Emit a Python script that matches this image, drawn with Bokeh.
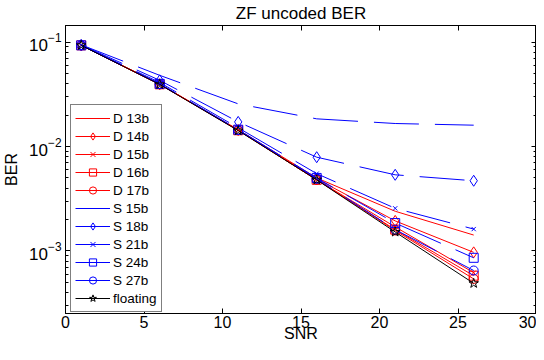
from bokeh.plotting import figure
from bokeh.models import (Range1d, LogAxis, LinearAxis, LogTicker, FixedTicker, Legend,
                          CustomJSTickFormatter)
from bokeh.embed import file_html
from bokeh.resources import INLINE

snr = [1, 6, 11, 16, 21, 26]

d13 = [0.093, 0.0395, 0.0145, 0.0050, 0.0024, 0.00142]
d14 = [0.093, 0.0395, 0.0144, 0.0049, 0.00194, 0.00097]
d15 = [0.093, 0.0395, 0.0143, 0.0048, 0.00170, 0.00062]
d16 = [0.093, 0.0394, 0.0143, 0.0048, 0.00160, 0.00058]
d17 = [0.093, 0.0394, 0.0143, 0.0048, 0.00157, 0.00054]
s15 = [0.094, 0.048, 0.0256, 0.0184, 0.0166, 0.0160]
s18 = [0.094, 0.043, 0.0172, 0.0079, 0.00536, 0.0047]
s21 = [0.093, 0.041, 0.0151, 0.0055, 0.00256, 0.00162]
s24 = [0.093, 0.0398, 0.0145, 0.0050, 0.00185, 0.00086]
s27 = [0.093, 0.0395, 0.0144, 0.0049, 0.00160, 0.00065]
flt = [0.093, 0.0393, 0.0142, 0.0048, 0.00152, 0.00049]

x_ticks = [0, 5, 10, 15, 20, 25, 30]

FONT = "Liberation Sans"

p = figure(width=536, height=344, output_backend="svg", toolbar_location=None,
           y_axis_type="log", x_range=Range1d(0, 30), y_range=Range1d(2.52e-4, 0.144),
           min_border_left=55, min_border_right=0, min_border_top=23, min_border_bottom=0,
           title="ZF uncoded BER")
p.grid.visible = False
p.outline_line_color = "black"
p.background_fill_color = "white"
p.border_fill_color = "white"

p.title.text_font = FONT
p.title.text_font_size = "17px"
p.title.text_font_style = "normal"
p.title.align = "center"
p.title.vertical_align = "middle"
p.title.standoff = 4
p.title.text_color = "black"

blank = CustomJSTickFormatter(code="return '';")

def style_axis(ax, labels=True):
    ax.axis_line_color = "black"
    ax.major_tick_in = 5
    ax.major_tick_out = 0
    ax.minor_tick_in = 3
    ax.minor_tick_out = 0
    ax.major_tick_line_color = "black"
    ax.minor_tick_line_color = "black"
    ax.major_label_text_font = FONT
    ax.major_label_text_color = "black"
    if labels:
        ax.major_label_text_font_size = "16px"
    else:
        ax.formatter = blank
        ax.major_label_text_font_size = "1px"
        ax.major_label_standoff = 0
        ax.axis_label_standoff = 0

xax = p.xaxis[0]
xax.ticker = FixedTicker(ticks=x_ticks)
style_axis(xax)
xax.minor_tick_in = 0
xax.major_label_standoff = 2
xax.axis_label = "SNR"
xax.axis_label_text_font = FONT
xax.axis_label_text_font_size = "16px"
xax.axis_label_text_font_style = "normal"
xax.axis_label_text_color = "black"
xax.axis_label_standoff = -6

yax = p.yaxis[0]
yax.ticker = LogTicker(mantissas=[1], num_minor_ticks=10)
style_axis(yax)
yax.major_label_text_font_size = "17px"
yax.major_label_standoff = 4
yax.axis_label = "BER"
yax.axis_label_text_font = FONT
yax.axis_label_text_font_size = "16px"
yax.axis_label_text_font_style = "normal"
yax.axis_label_text_color = "black"
yax.axis_label_standoff = 6

rax = LogAxis(ticker=LogTicker(mantissas=[1], num_minor_ticks=10))
style_axis(rax, labels=False)
p.add_layout(rax, "right")

tax = LinearAxis(ticker=FixedTicker(ticks=x_ticks))
style_axis(tax, labels=False)
tax.minor_tick_in = 0
p.add_layout(tax, "above")

RED, BLUE = "#ff0000", "#0000ff"
DASH = "45 16"
series = [
    ("D 13b", d13, RED, None, "solid"),
    ("D 14b", d14, RED, "diamond", "solid"),
    ("D 15b", d15, RED, "x", "solid"),
    ("D 16b", d16, RED, "square", "solid"),
    ("D 17b", d17, RED, "circle", "solid"),
    ("S 15b", s15, BLUE, None, DASH),
    ("S 18b", s18, BLUE, "diamond", DASH),
    ("S 21b", s21, BLUE, "x", DASH),
    ("S 24b", s24, BLUE, "square", DASH),
    ("S 27b", s27, BLUE, "circle", DASH),
    ("floating", flt, "black", "star", "solid"),
]
sizes = {"diamond": 11, "x": 6, "square": 9, "circle": 9, "star": 10}

items = []
for name, vals, col, mk, dash in series:
    rs = [p.line(snr, vals, line_color=col, line_width=1, line_dash=dash)]
    if mk is not None:
        rs.append(p.scatter(snr, vals, marker=mk, size=sizes[mk], line_color=col,
                            fill_color=None, line_width=1))
    items.append((name, rs))

leg = Legend(items=items, location=(5, 1))
leg.label_text_font = FONT
leg.label_text_font_size = "13.5px"
leg.label_text_color = "black"
leg.glyph_width = 35
leg.glyph_height = 18
leg.label_height = 18
leg.spacing = 0
leg.padding = 4
leg.margin = 0
leg.label_standoff = 3
leg.border_line_color = "black"
leg.border_line_width = 1
leg.background_fill_color = "white"
leg.background_fill_alpha = 1
p.add_layout(leg, "center")

open("out.html", "w").write(file_html(p, INLINE))
